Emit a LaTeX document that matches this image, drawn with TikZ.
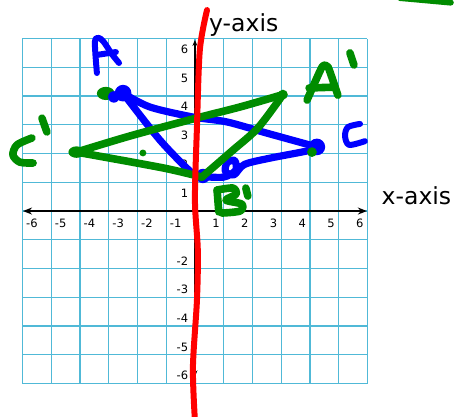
\documentclass[tikz,border=0pt]{standalone}
\usepackage{fontspec}
\setmainfont{DejaVu Sans}
\usetikzlibrary{arrows.meta}
\definecolor{gridcyan}{RGB}{80,185,215}
\definecolor{penblue}{RGB}{0,0,255}
\definecolor{pengreen}{RGB}{0,140,0}
\definecolor{penred}{RGB}{255,0,0}
\tikzset{
    gridline/.style={draw=gridcyan,line width=1.3pt},
    axisline/.style={draw=black,line width=1.6pt},
    bluepen/.style={draw=penblue,line width=7.2pt,line cap=round,line join=round},
    greenpen/.style={draw=pengreen,line width=7.6pt,line cap=round,line join=round},
    redpen/.style={draw=penred,line width=6pt,line cap=round,line join=round},
    ticklab/.style={font=\fontsize{11.5}{13}\selectfont,inner sep=0pt},
    axislab/.style={font=\fontsize{23.5}{26}\selectfont,inner sep=0pt,anchor=base west}
}

\begin{document}
\begin{tikzpicture}[x=28.75pt,y=28.75pt]
  \useasboundingbox (-6.78,-7.13) rectangle (9.01,7.34);
  % grid
  \foreach \i in {-6,...,6}{
    \draw[gridline] (\i,-6) -- (\i,6);
    \draw[gridline] (-6,\i) -- (6,\i);
  }
  % axes
  \coordinate (xl) at (-5.98,0);
  \coordinate (xr) at (5.98,0);
  \coordinate (yb) at (0,-5.75);
  \coordinate (yt) at (0,5.95);
  \draw[axisline,{Stealth[length=9pt,width=7pt]}-{Stealth[length=9pt,width=7pt]}] (xl) -- (xr);
  \draw[black,line width=1.2pt,{Stealth[length=6pt,width=5pt]}-{Stealth[length=6pt,width=5pt]}] (yb) -- (yt);
  \foreach \n in {1,...,6}{
    \node[ticklab] (xp\n) at (\n-0.27,-0.43) {\n};
    \node[ticklab] (xm\n) at (-\n+0.33,-0.43) {-\n};
    \node[ticklab,anchor=east] (yp\n) at (-0.23,\n-0.37) {\n};
  }
  \foreach \n in {2,...,6}
    \node[ticklab,anchor=east] (ym\n) at (-0.23,-\n+0.27) {-\n};
  \node[axislab] (ylab) at (0.49,6.23) {y-axis};
  \node[axislab] (xlab) at (6.49,0.24) {x-axis};

  % triangle corners
  \coordinate (A) at (-2.50,4.10);
  \coordinate (B) at (0.24,1.20);
  \coordinate (C) at (4.24,2.23);
  \coordinate (Ap) at (3.06,4.05);
  \coordinate (Bp) at (0.24,1.18);
  \coordinate (Cp) at (-4.12,2.05);

  % blue ABC
  \fill[pengreen] (-3.10,4.09) ellipse (0.31 and 0.23);
  \fill[penblue] (A) circle (0.29);
  \fill[penblue] (-2.82,3.97) circle (0.2);
  \fill[penblue] (C) circle (0.29);
  \fill[penblue] (0.28,1.22) circle (0.25);
  \draw[bluepen] plot[smooth] coordinates {(A) (-1.57,3.62) (-0.07,3.27) (1.11,3.10) (2.50,2.71) (C)};
  \draw[bluepen] plot[smooth] coordinates {(A) (-1.22,2.47) (-0.10,1.32) (B)};
  \draw[bluepen] plot[smooth] coordinates {(B) (1.00,1.18) (1.42,1.42) (1.38,1.76) (1.12,1.68) (1.06,1.38) (1.36,1.26) (1.72,1.62) (2.61,1.84) (3.90,2.09) (C)};
  \draw[bluepen,line width=6pt] plot[smooth] coordinates {(-3.41,4.80) (-3.48,5.88) (-3.34,6.02) (-3.17,5.88) (-2.89,5.46) (-2.64,5.15)};
  \draw[bluepen,line width=6pt] (-3.41,5.43) -- (-2.75,5.53);
  \draw[bluepen,line width=6pt] plot[smooth] coordinates {(5.74,3.03) (5.32,2.92) (5.22,2.61) (5.36,2.30) (5.91,2.43)};

  % green A'B'C'
  \draw[greenpen] plot[smooth] coordinates {(Cp) (-2.26,2.61) (0,3.22) (1.57,3.62) (Ap)};
  \draw[greenpen] plot[smooth] coordinates {(Cp) (-1.11,1.50) (Bp)};
  \draw[greenpen] plot[smooth] coordinates {(Bp) (1.29,2.09) (2.19,2.89) (Ap)};
  \fill[pengreen] (Cp) ellipse (0.28 and 0.2);
  \fill[pengreen] (Ap) circle (0.17);
  \fill[pengreen] (4.07,2.05) circle (0.17);
  \fill[pengreen] (-1.81,2.02) circle (0.12);
  \draw[greenpen] plot[smooth] coordinates {(-5.67,2.54) (-6.19,2.30) (-6.33,1.95) (-6.09,1.70) (-5.63,1.67)};
  \draw[greenpen] (-5.32,3.23) -- (-5.15,2.75);
  \draw[greenpen] plot[smooth,tension=0.3] coordinates {(3.90,3.86) (4.42,5.01) (4.63,5.01) (4.97,4.03)};
  \draw[greenpen] (3.97,4.28) -- (4.87,4.31);
  \draw[greenpen] (5.39,5.50) -- (5.53,5.08);
  \draw[greenpen] (0.77,0.73) -- (0.83,-0.03);
  \draw[greenpen] plot[smooth] coordinates {(0.77,0.73) (1.32,0.80) (1.43,0.59) (1.08,0.38) (1.63,0.24) (1.57,0) (0.94,-0.07)};
  \draw[greenpen] (1.77,0.80) -- (1.84,0.52);
  \draw[greenpen,line width=6pt] (7.13,7.41) -- (8.90,7.25);

  % red mirror line
  \draw[redpen] plot[smooth] coordinates {(0.42,6.99) (0.17,5.60) (0.07,2.92) (0,0.38) (0.10,-1.36) (0.07,-3.10) (-0.07,-5.43) (0,-7.3)};
\end{tikzpicture}
\end{document}
